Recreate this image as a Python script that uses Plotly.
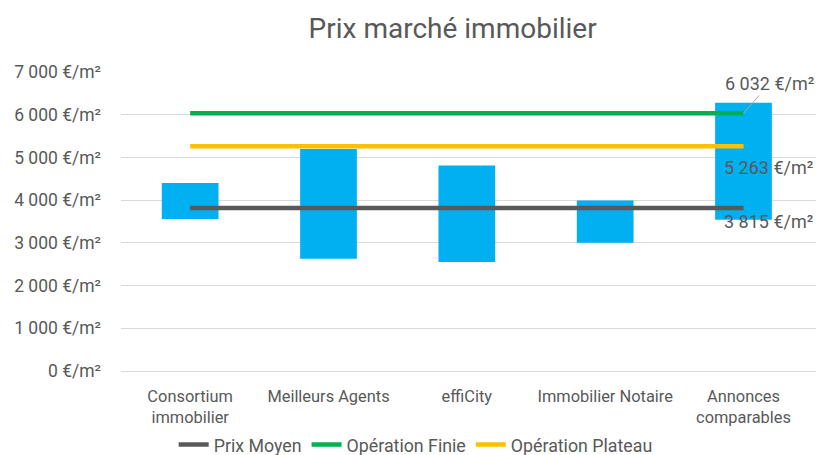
import plotly.graph_objects as go

categories = ["Consortium<br>immobilier", "Meilleurs Agents", "effiCity", "Immobilier Notaire", "Annonces<br>comparables"]
prix_min = [3560, 2630, 2550, 3000, 3540]
prix_max = [4400, 5200, 4810, 3990, 6280]

prix_moyen = 3815
operation_finie = 6032
operation_plateau = 5263

y_ticks = [0, 1000, 2000, 3000, 4000, 5000, 6000, 7000]
y_ticktext = ["0 €/m²", "1 000 €/m²", "2 000 €/m²", "3 000 €/m²", "4 000 €/m²",
              "5 000 €/m²", "6 000 €/m²", "7 000 €/m²"]

def fmt(v):
    return f"{v:,}".replace(",", " ") + " €/m²"

FONT = "Roboto"
TXT = "#595959"

fig = go.Figure()
fig.add_trace(go.Bar(
    x=categories,
    y=[b - a for a, b in zip(prix_min, prix_max)],
    base=prix_min,
    width=0.41,
    marker=dict(color="#00B0F0", line=dict(width=0)),
    showlegend=False,
    hoverinfo="skip",
))

lines = [("Prix Moyen", prix_moyen, "#595959"),
         ("Opération Finie", operation_finie, "#00B050"),
         ("Opération Plateau", operation_plateau, "#FFC000")]
for name, val, col in lines:
    fig.add_trace(go.Scatter(
        x=categories, y=[val] * len(categories), mode="lines", name=name,
        line=dict(color=col, width=4.5),
    ))

# data labels
lab_font = dict(family=FONT, size=18, color=TXT)
fig.add_annotation(x=categories[-1], y=operation_finie, text=fmt(operation_finie),
                   showarrow=True, arrowhead=0, arrowwidth=1, arrowcolor="#A6A6A6",
                   ax=26, ay=-30, standoff=0, font=lab_font)
fig.add_annotation(x=categories[-1], y=operation_plateau, text=fmt(operation_plateau),
                   showarrow=False, xanchor="right", xshift=71, yshift=-21, font=lab_font)
fig.add_annotation(x=categories[-1], y=prix_moyen, text=fmt(prix_moyen),
                   showarrow=False, xanchor="right", xshift=71, yshift=-13, font=lab_font)

fig.update_layout(
    width=820, height=455,
    margin=dict(l=121, r=4, t=72, b=84),
    paper_bgcolor="white", plot_bgcolor="white",
    title=dict(text="Prix marché immobilier", x=0.552, xanchor="center", y=0.938, yanchor="middle",
               font=dict(family=FONT, size=28, color=TXT)),
    font=dict(family=FONT, color=TXT, size=16),
    legend=dict(orientation="h", x=0.424, xanchor="center", xref="paper",
                y=0.022, yanchor="middle", yref="container",
                bgcolor="rgba(0,0,0,0)",
                font=dict(family=FONT, size=17.8, color=TXT), traceorder="normal",
                itemwidth=30),
)
fig.update_xaxes(showgrid=False, showline=True, linecolor="#D9D9D9", linewidth=1,
                 tickfont=dict(family=FONT, size=16.4, color=TXT), ticks="",
                 ticklabelstandoff=10, automargin=False)
fig.update_yaxes(range=[0, 7000], tickvals=y_ticks, ticktext=y_ticktext,
                 showgrid=True, gridcolor="#D9D9D9", gridwidth=1, zeroline=False,
                 tickfont=dict(family=FONT, size=17.5, color=TXT), ticks="",
                 ticklabelstandoff=19, automargin=False)

fig.write_html("out.html", config={"displayModeBar": False},
               post_script="document.body.style.margin='0';document.body.style.overflow='hidden';")
